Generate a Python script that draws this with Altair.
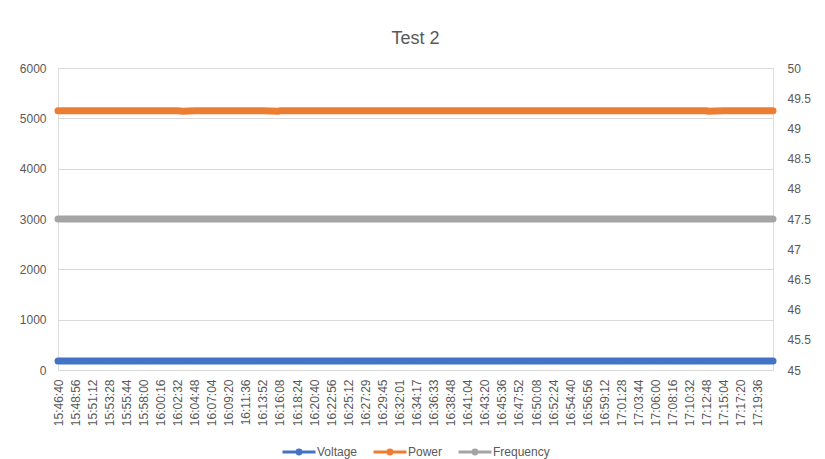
import altair as alt
import pandas as pd

series_names = ["Voltage", "Power", "Frequency"]
series_colors = ["#4472C4", "#ED7D31", "#A5A5A5"]

tick_labels = ["15:46:40", "15:48:56", "15:51:12", "15:53:28", "15:55:44", "15:58:00",
               "16:00:16", "16:02:32", "16:04:48", "16:07:04", "16:09:20", "16:11:36",
               "16:13:52", "16:16:08", "16:18:24", "16:20:40", "16:22:56", "16:25:12",
               "16:27:29", "16:29:45", "16:32:01", "16:34:17", "16:36:33", "16:38:48",
               "16:41:04", "16:43:20", "16:45:36", "16:47:52", "16:50:08", "16:52:24",
               "16:54:40", "16:56:56", "16:59:12", "17:01:28", "17:03:44", "17:06:00",
               "17:08:16", "17:10:32", "17:12:48", "17:15:04", "17:17:20", "17:19:36"]

sample_times = ["15:46:40", "15:48:56", "15:51:12", "15:53:28", "15:55:44", "15:58:00",
                "16:00:16", "16:02:32", "16:03:17", "16:04:48", "16:07:04", "16:09:20",
                "16:11:36", "16:13:52", "16:15:56", "16:16:08", "16:18:24", "16:20:40",
                "16:22:56", "16:25:12", "16:27:29", "16:29:45", "16:32:01", "16:34:17",
                "16:36:33", "16:38:48", "16:41:04", "16:43:20", "16:45:36", "16:47:52",
                "16:50:08", "16:52:24", "16:54:40", "16:56:56", "16:59:12", "17:01:28",
                "17:03:44", "17:06:00", "17:08:16", "17:10:32", "17:12:48", "17:12:57",
                "17:15:04", "17:17:20", "17:19:36", "17:21:36"]

voltage = [180, 180, 180, 180, 180, 180, 180, 180, 180, 180, 180, 180,
           180, 180, 180, 180, 180, 180, 180, 180, 180, 180, 180, 180,
           180, 180, 180, 180, 180, 180, 180, 180, 180, 180, 180, 180,
           180, 180, 180, 180, 180, 180, 180, 180, 180, 180]

power = [5150, 5150, 5150, 5150, 5150, 5150, 5150, 5150, 5140, 5150, 5150, 5150,
         5150, 5150, 5140, 5150, 5150, 5150, 5150, 5150, 5150, 5150, 5150, 5150,
         5150, 5150, 5150, 5150, 5150, 5150, 5150, 5150, 5150, 5150, 5150, 5150,
         5150, 5150, 5150, 5150, 5150, 5140, 5150, 5150, 5150, 5150]

frequency = [47.5, 47.5, 47.5, 47.5, 47.5, 47.5, 47.5, 47.5, 47.5, 47.5, 47.5, 47.5,
             47.5, 47.5, 47.5, 47.5, 47.5, 47.5, 47.5, 47.5, 47.5, 47.5, 47.5, 47.5,
             47.5, 47.5, 47.5, 47.5, 47.5, 47.5, 47.5, 47.5, 47.5, 47.5, 47.5, 47.5,
             47.5, 47.5, 47.5, 47.5, 47.5, 47.5, 47.5, 47.5, 47.5, 47.5]

left_ticks = [0, 1000, 2000, 3000, 4000, 5000, 6000]
right_ticks = [45, 45.5, 46, 46.5, 47, 47.5, 48, 48.5, 49, 49.5, 50]

DAY = "2024-01-01T"


def dt(t):
    h, m, s = (int(p) for p in t.split(":"))
    return alt.DateTime(year=2024, month=1, date=1, hours=h, minutes=m, seconds=s)


left_rows = []
for t, v in zip(sample_times, voltage):
    left_rows.append({"time": DAY + t, "series": "Voltage", "value": v})
for t, v in zip(sample_times, power):
    left_rows.append({"time": DAY + t, "series": "Power", "value": v})
right_rows = [{"time": DAY + t, "series": "Frequency", "value": v}
              for t, v in zip(sample_times, frequency)]

left_df = pd.DataFrame(left_rows)
right_df = pd.DataFrame(right_rows)

TXT = "#595959"
GRID = "#D9D9D9"
FONT = "Liberation Sans"

legend_path = ("M-1,0L1,0M-0.12,0A0.12,0.12,0,1,1,0.12,0"
               "A0.12,0.12,0,1,1,-0.12,0Z")

legend = alt.Legend(title=None, orient="none", legendX=223, legendY=366,
                    direction="horizontal", symbolType=legend_path,
                    symbolSize=1089, symbolStrokeWidth=3, symbolOpacity=1,
                    labelFontSize=12, labelColor=TXT, labelFont=FONT, labelOffset=0,
                    columnPadding=9)

color = alt.Color("series:N", scale=alt.Scale(domain=series_names, range=series_colors),
                  legend=legend)

x = alt.X("time:T",
          scale=alt.Scale(domain=[dt(sample_times[0]), dt(sample_times[-1])], nice=False),
          axis=alt.Axis(values=[dt(t) for t in tick_labels], format="%H:%M:%S",
                        labelAngle=270, grid=False, ticks=False, domainColor=GRID,
                        labelPadding=9, labelColor=TXT, labelFontSize=12, labelFont=FONT,
                        labelOverlap=False, labelFlush=False, labelBound=False, title=None))

line_kw = dict(strokeWidth=7, strokeCap="round", strokeJoin="round")

left_chart = alt.Chart(left_df).mark_line(**line_kw).encode(
    x=x,
    y=alt.Y("value:Q", scale=alt.Scale(domain=[0, 6000]),
            axis=alt.Axis(values=left_ticks, format="d", grid=True, gridColor=GRID,
                          domain=False, ticks=False, labelPadding=12, labelColor=TXT,
                          labelFontSize=12, labelFont=FONT, title=None)),
    color=color,
    detail="series:N",
)

right_chart = alt.Chart(right_df).mark_line(**line_kw).encode(
    x=x,
    y=alt.Y("value:Q", scale=alt.Scale(domain=[45, 50]),
            axis=alt.Axis(values=right_ticks, format="~g", orient="right", grid=False,
                          domain=False, ticks=False, labelPadding=14, labelColor=TXT,
                          labelFontSize=12, labelFont=FONT, title=None)),
    color=color,
)

chart = alt.layer(left_chart, right_chart).resolve_scale(y="independent").properties(
    width=715, height=302,
    title=alt.TitleParams(text="Test 2", fontSize=18, fontWeight="normal", color=TXT,
                          font=FONT, anchor="middle", baseline="alphabetic", offset=0),
    padding={"left": 50, "top": 60, "right": 44, "bottom": 89},
    autosize=alt.AutoSizeParams(type="none"),
).configure_view(stroke=None).configure(font=FONT, background="white")

chart.save("out.html", embed_options={"renderer": "svg", "actions": False})
